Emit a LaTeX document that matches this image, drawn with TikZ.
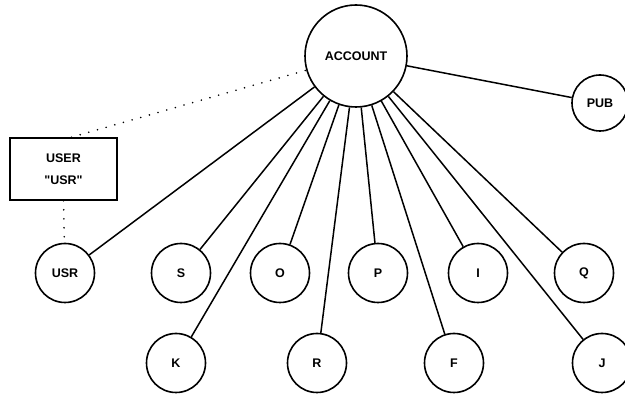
\documentclass[tikz,border=0pt]{standalone}
\usepackage{fontspec}
\setmainfont[Ligatures=TeXOff]{Liberation Sans}
\begin{document}
\begin{tikzpicture}[x=1pt,y=-1pt,
  every node/.style={font=\bfseries\fontsize{12.5}{14}\selectfont},
  leaf/.style={draw,circle,line width=1.6pt,minimum size=59pt,inner sep=0pt},
  root/.style={draw,circle,line width=1.6pt,minimum size=102pt,inner sep=0pt},
  edge/.style={line width=1.5pt},
  link/.style={line width=1.8pt,line cap=round,dash pattern=on 0pt off 9pt}]
\useasboundingbox (0,0) rectangle (625,395);
\begin{scope}
\clip (0,0) rectangle (625,395);
% root and its children
\node[root] (acct) at (356,56) {ACCOUNT};
\node[leaf,minimum size=56pt] (pub) at (600,103) {PUB};
\node[leaf] (usr) at (65,273) {USR};
\node[leaf] (s) at (181,273) {S};
\node[leaf] (o) at (280,273) {O};
\node[leaf] (p) at (378,273) {P};
\node[leaf] (i) at (478,273) {I};
\node[leaf] (q) at (584,273) {Q};
\node[leaf] (k) at (176,363) {K};
\node[leaf] (r) at (317,363) {R};
\node[leaf] (f) at (454,363) {F};
\node[leaf] (j) at (602,363) {J};
% user record box
\node[draw,line width=1.6pt,minimum width=107pt,minimum height=62pt,inner sep=0pt,
      align=center] (box) at (63.5,169) {USER\\[8pt]"USR"};
% tree edges
\foreach \c in {pub,usr,s,o,p,i,q,k,r,f,j}
  \draw[edge] (acct) -- (\c);
% dotted cross references
\draw[link] ([xshift=8pt]box.north) -- (acct);
\draw[link] (box.south) -- (usr);
\end{scope}
\end{tikzpicture}
\end{document}
